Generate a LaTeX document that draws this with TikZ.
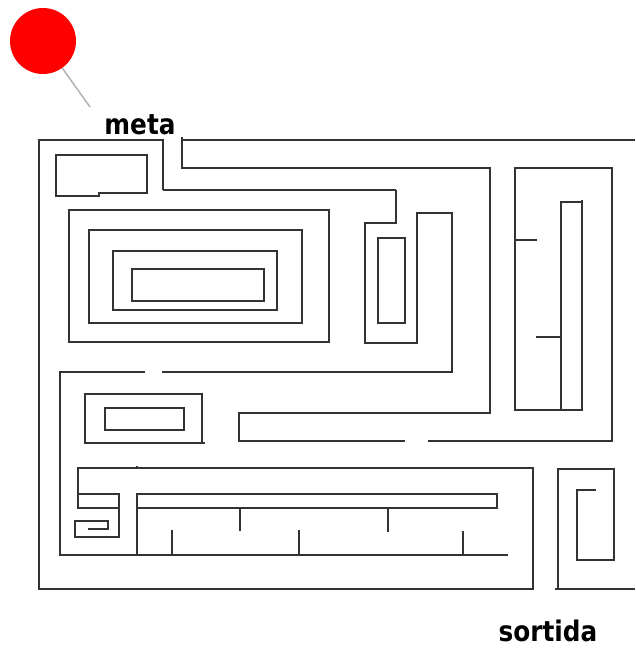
\documentclass[tikz,border=0pt]{standalone}
\usepackage{fontspec}
\setmainfont{DejaVu Sans}
\usepackage{tikz}

\tikzset{
	wall/.style={draw=black!80,line width=1.5pt},
	lbl/.style={font=\fontsize{24}{24}\selectfont\bfseries,inner sep=0pt,text=black,transform shape,xscale=1.03,yscale=1.18}
}

\begin{document}
\begin{tikzpicture}[x=1pt,y=-1pt]
	\useasboundingbox (0,0) rectangle (635,648);
	
	\node[shape=circle,fill=red,minimum size=66pt,inner sep=0pt] (pin) at (43, 41) {};
	\coordinate (tip) at (90, 107);
	\node[lbl] (meta) at (140, 125) {meta};
	\node[lbl] (sortida) at (548, 631) {sortida};
	
	\draw[draw=black!30,line width=1.5pt] (pin) -- (tip);
	
	% outer walls
	\draw[wall] (163,190) -- (163,140) -- (39,140) -- (39,589) -- (533,589) -- (533,468) -- (78,468) -- (78,508) -- (119,508);
	\draw[wall] (396,190) -- (163,190);
	\draw[wall] (182,137) -- (182,168) -- (490,168) -- (490,413) -- (239,413) -- (239,441) -- (405,441);
	\draw[wall] (182,140) -- (635,140);
	\draw[wall] (428,441) -- (612,441) -- (612,168) -- (515,168) -- (515,410) -- (582,410) -- (582,200);
	\draw[wall] (582,202) -- (561,202) -- (561,410);
	\draw[wall] (515,240) -- (537,240);
	\draw[wall] (536,337) -- (561,337);
	
	% top left box
	\draw[wall] (99,193) -- (147,193) -- (147,155) -- (56,155) -- (56,196) -- (99,196) -- cycle;
	
	% nested rectangles
	\draw[wall] (69,210) rectangle (329,342);
	\draw[wall] (89,230) rectangle (302,323);
	\draw[wall] (113,251) rectangle (277,310);
	\draw[wall] (132,269) rectangle (264,301);
	
	% middle
	\draw[wall] (396,190) -- (396,223) -- (365,223) -- (365,343) -- (417,343) -- (417,213) -- (452,213) -- (452,372) -- (162,372);
	\draw[wall] (378,238) rectangle (405,323);
	\draw[wall] (145,372) -- (60,372) -- (60,555);
	\draw[wall] (85,394) rectangle (202,443);
	\draw[wall] (202,443) -- (205,443);
	\draw[wall] (105,408) rectangle (184,430);
	
	% bottom
	\draw[wall] (59,555) -- (508,555);
	\draw[wall] (137,494) rectangle (497,508);
	\draw[wall] (137,508) -- (137,555);
	\draw[wall] (137,466) -- (137,468);
	\draw[wall] (172,530) -- (172,555);
	\draw[wall] (240,508) -- (240,531);
	\draw[wall] (299,530) -- (299,555);
	\draw[wall] (388,508) -- (388,532);
	\draw[wall] (463,531) -- (463,555);
	\draw[wall] (78,494) -- (119,494) -- (119,537) -- (75,537) -- (75,521) -- (108,521) -- (108,529) -- (88,529);
	
	% bottom right
	\draw[wall] (635,589) -- (555,589);
	\draw[wall] (558,589) -- (558,469) -- (614,469) -- (614,560) -- (577,560) -- (577,490) -- (596,490);
\end{tikzpicture}
\end{document}
